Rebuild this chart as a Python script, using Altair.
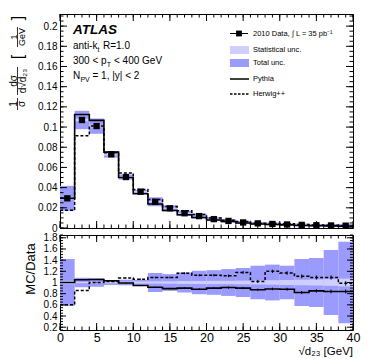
import altair as alt
import pandas as pd

# ---------------- data ----------------
bin_lo = [0, 2, 4, 6, 8, 10, 12, 14, 16, 18, 20, 22, 24, 26, 28, 30, 32, 34, 36, 38]
bin_hi = [2, 4, 6, 8, 10, 12, 14, 16, 18, 20, 22, 24, 26, 28, 30, 32, 34, 36, 38, 40]
bin_center = [1, 3, 5, 7, 9, 11, 13, 15, 17, 19, 21, 23, 25, 27, 29, 31, 33, 35, 37, 39]

data_val = [0.0294, 0.107, 0.101, 0.073, 0.0505, 0.036, 0.026, 0.0195, 0.0146, 0.0118,
            0.0088, 0.0070, 0.0055, 0.0046, 0.0040, 0.0035, 0.0031, 0.0027, 0.0025, 0.0023]
total_unc_rel = [0.42, 0.085, 0.075, 0.045, 0.05, 0.045, 0.17, 0.15, 0.18, 0.21,
                 0.22, 0.24, 0.26, 0.30, 0.32, 0.30, 0.42, 0.44, 0.58, 0.73]
stat_unc_rel = [0.03, 0.012, 0.012, 0.015, 0.015, 0.018, 0.02, 0.022, 0.025, 0.028,
                0.03, 0.03, 0.033, 0.035, 0.04, 0.045, 0.05, 0.055, 0.06, 0.07]
pythia_val = [0.0294, 0.1124, 0.1066, 0.0752, 0.0500, 0.0340, 0.0238, 0.0174, 0.0131, 0.0104,
              0.0079, 0.0064, 0.0050, 0.0040, 0.0035, 0.0031, 0.0025, 0.0023, 0.0021, 0.0019]
herwig_val = [0.0176, 0.0915, 0.1010, 0.0745, 0.0545, 0.0382, 0.0283, 0.0213, 0.0170, 0.0133,
              0.0099, 0.0078, 0.0065, 0.0047, 0.0048, 0.0041, 0.0034, 0.0029, 0.0027, 0.0023]
pythia_ratio = [1.0, 1.05, 1.055, 1.03, 0.99, 0.945, 0.915, 0.89, 0.9, 0.88,
                0.9, 0.91, 0.9, 0.87, 0.885, 0.88, 0.82, 0.85, 0.84, 0.84]
herwig_ratio = [0.6, 0.855, 1.0, 1.02, 1.08, 1.06, 1.09, 1.09, 1.165, 1.13,
                1.13, 1.12, 1.18, 1.02, 1.2, 1.17, 1.11, 1.09, 1.09, 0.985]
pythia_ratio_err = [0.01, 0.005, 0.005, 0.005, 0.008, 0.01, 0.012, 0.014, 0.015, 0.016,
                    0.018, 0.02, 0.02, 0.022, 0.024, 0.026, 0.028, 0.03, 0.032, 0.035]
herwig_ratio_err = [0.012, 0.006, 0.006, 0.007, 0.01, 0.012, 0.014, 0.016, 0.018, 0.02,
                    0.022, 0.024, 0.025, 0.027, 0.03, 0.032, 0.034, 0.036, 0.038, 0.04]

x_major = [0, 5, 10, 15, 20, 25, 30, 35, 40]
x_minor = list(range(0, 41))
top_y_labels = [0, 0.02, 0.04, 0.06, 0.08, 0.1, 0.12, 0.14, 0.16, 0.18, 0.2]
top_y_minor = [round(0.005 * i, 3) for i in range(43)]
bot_y_labels = [0.2, 0.4, 0.6, 0.8, 1.0, 1.2, 1.4, 1.6, 1.8]
bot_y_minor = [round(0.15 + 0.05 * i, 2) for i in range(35)]

# ---------------- tables ----------------
bins = pd.DataFrame({
    "lo": bin_lo, "hi": bin_hi, "c": bin_center, "data": data_val,
    "tot": total_unc_rel, "stat": stat_unc_rel,
    "pyr": pythia_ratio, "hwr": herwig_ratio,
    "pye": pythia_ratio_err, "hwe": herwig_ratio_err,
})
bins["tot_lo"] = bins["data"] * (1 - bins["tot"])
bins["tot_hi"] = bins["data"] * (1 + bins["tot"])
bins["stat_lo"] = bins["data"] * (1 - bins["stat"])
bins["stat_hi"] = bins["data"] * (1 + bins["stat"])
bins["rtot_lo"] = 1 - bins["tot"]
bins["rtot_hi"] = 1 + bins["tot"]
bins["rstat_lo"] = 1 - bins["stat"]
bins["rstat_hi"] = 1 + bins["stat"]
bins["pye_lo"] = bins["pyr"] - bins["pye"]
bins["pye_hi"] = bins["pyr"] + bins["pye"]
bins["hwe_lo"] = bins["hwr"] - bins["hwe"]
bins["hwe_hi"] = bins["hwr"] + bins["hwe"]

steps = pd.DataFrame({
    "x": bin_lo + [bin_hi[-1]],
    "py": pythia_val + [pythia_val[-1]],
    "hw": herwig_val + [herwig_val[-1]],
    "pyr": pythia_ratio + [pythia_ratio[-1]],
    "hwr": herwig_ratio + [herwig_ratio[-1]],
})

# ---------------- style ----------------
W, H1, H2 = 293, 214, 95
FONT = "Liberation Sans"
TOT = "#9a9aff"
STAT = "#cfcfff"
xs = alt.Scale(domain=[0, 40], nice=False, zero=False)
ys1 = alt.Scale(domain=[0, 0.212], nice=False, zero=False)
ys2 = alt.Scale(domain=[0.15, 1.85], nice=False, zero=False)
dummy = pd.DataFrame({"d": [0]})


def yaxis(values, fmt):
    return alt.Axis(values=values, format=fmt, ticks=False, domain=False, grid=False,
                    labelFont=FONT, labelFontSize=10, labelPadding=3, labelColor="black",
                    minExtent=51, maxExtent=51, title=None, labelOverlap=False)


AX_Y1 = yaxis(top_y_labels, ".2~f")
AX_Y2 = yaxis(bot_y_labels, ".1~f")
AX_X2 = alt.Axis(values=x_major, format="d", ticks=False, domain=False, grid=False,
                 labelFont=FONT, labelFontSize=12.5, labelPadding=11, labelBaseline="alphabetic",
                 labelFlush=False, labelOverlap=False, labelColor="black", title=None)


def ticks(vals, channel, xscale, yscale, xaxis, yaxis_, w, h, L):
    df = pd.DataFrame({"v": vals})
    c = alt.Chart(df).mark_rule(color="black", strokeWidth=1)
    if channel == "x":
        e = alt.X("v:Q", scale=xscale, axis=xaxis)
        return [c.encode(x=e, y=alt.value(h), y2=alt.value(h - L)),
                c.encode(x=e, y=alt.value(0), y2=alt.value(L))]
    e = alt.Y("v:Q", scale=yscale, axis=yaxis_)
    return [c.encode(y=e, x=alt.value(0), x2=alt.value(L)),
            c.encode(y=e, x=alt.value(w), x2=alt.value(w - L))]


def txt(s, x, y, size=10, align="left", baseline="alphabetic", **kw):
    return alt.Chart(dummy).mark_text(text=s, font=FONT, fontSize=size, align=align,
                                      baseline=baseline, color="black", **kw).encode(
        x=alt.value(x), y=alt.value(y))


def hline(x1, x2, y, **kw):
    return alt.Chart(dummy).mark_rule(color="black", **kw).encode(
        x=alt.value(x1), x2=alt.value(x2), y=alt.value(y))


def vline(x, y1, y2, **kw):
    return alt.Chart(dummy).mark_rule(color="black", **kw).encode(
        x=alt.value(x), y=alt.value(y1), y2=alt.value(y2))


def box(x1, x2, y1, y2, color):
    return alt.Chart(dummy).mark_rect(color=color).encode(
        x=alt.value(x1), x2=alt.value(x2), y=alt.value(y1), y2=alt.value(y2))


# ---------------- top panel ----------------
b = alt.Chart(bins)
s = alt.Chart(steps)
X1 = lambda f: alt.X(f, scale=xs, axis=None)
Y1 = lambda f: alt.Y(f, scale=ys1, axis=AX_Y1)

top_tot = b.mark_rect(color=TOT, clip=True).encode(
    x=X1("lo:Q"), x2="hi:Q", y=Y1("tot_lo:Q"), y2="tot_hi:Q")
top_stat = b.mark_rect(color=STAT, clip=True).encode(
    x=X1("lo:Q"), x2="hi:Q", y=Y1("stat_lo:Q"), y2="stat_hi:Q")
top_py = s.mark_line(interpolate="step-after", color="black", strokeWidth=1.6, clip=True).encode(
    x=X1("x:Q"), y=Y1("py:Q"))
top_hw = s.mark_line(interpolate="step-after", color="black", strokeWidth=1.5,
                     strokeDash=[3, 2], clip=True).encode(x=X1("x:Q"), y=Y1("hw:Q"))
top_pts = b.mark_square(size=40, color="black", opacity=1).encode(x=X1("c:Q"), y=Y1("data:Q"))

top_ticks = (ticks(x_minor, "x", xs, ys1, None, AX_Y1, W, H1, 3.5)
             + ticks(x_major, "x", xs, ys1, None, AX_Y1, W, H1, 7)
             + ticks(top_y_minor, "y", xs, ys1, None, AX_Y1, W, H1, 3.5)
             + ticks(top_y_labels, "y", xs, ys1, None, AX_Y1, W, H1, 7))

top_text = [
    txt("ATLAS", 13, 19.5, size=13.5, fontWeight="bold", fontStyle="italic"),
    txt("anti-k", 13, 34.7), txt("t", 37.6, 37.5, size=7), txt("R=1.0", 43, 34.7),
    txt("300 < p", 13, 49.7), txt("T", 46.8, 52.5, size=7), txt("< 400 GeV", 54, 49.7),
    txt("N", 13, 64.7), txt("PV", 20.4, 67.5, size=7), txt("= 1, |y| < 2", 32.5, 64.7),
    # legend
    hline(170, 188, 19.5, strokeWidth=1),
    alt.Chart(dummy).mark_square(size=34, color="black", opacity=1).encode(
        x=alt.value(179), y=alt.value(19.5)),
    txt("2010 Data, \u222b L =  35 pb\u207b\u00b9", 193, 19.5, size=7.5, baseline="middle"),
    box(170, 189, 32, 40, STAT),
    txt("Statistical unc.", 193, 36, size=7.5, baseline="middle"),
    box(170, 189, 45, 53, TOT),
    txt("Total unc.", 193, 49, size=7.5, baseline="middle"),
    hline(170, 189, 65, strokeWidth=1.5),
    txt("Pythia", 193, 65, size=7.5, baseline="middle"),
    hline(170, 189, 80, strokeWidth=1.3, strokeDash=[2.5, 1.5]),
    txt("Herwig++", 193, 80, size=7.5, baseline="middle"),
    # y-axis title: 1/sigma dsigma/d sqrt(d23) [1/GeV]
    txt("1", -46, 90, size=10, angle=270, align="center", baseline="middle"),
    vline(-42.5, 84, 96, strokeWidth=0.8),
    txt("\u03c3", -38, 90, size=10, angle=270, align="center", baseline="middle"),
    txt("d\u03c3", -46, 67, size=10, angle=270, align="center", baseline="middle"),
    vline(-42.5, 53, 81, strokeWidth=0.8),
    txt("d\u221ad\u2082\u2083", -37, 67, size=10, angle=270, align="center", baseline="middle"),
    txt("[", -42, 43, size=16, angle=270, align="center", baseline="middle"),
    txt("1", -46, 23, size=9, angle=270, align="center", baseline="middle"),
    vline(-42.5, 13, 33, strokeWidth=0.8),
    txt("GeV", -38, 23, size=9, angle=270, align="center", baseline="middle"),
    txt("]", -42, 4, size=16, angle=270, align="center", baseline="middle"),
]

top = alt.layer(top_tot, top_stat, top_py, top_hw, top_pts, *top_ticks, *top_text).properties(
    width=W, height=H1)

# ---------------- bottom panel ----------------
X2 = lambda f: alt.X(f, scale=xs, axis=AX_X2)
Y2 = lambda f: alt.Y(f, scale=ys2, axis=AX_Y2)

bot_tot = b.mark_rect(color=TOT, clip=True).encode(
    x=X2("lo:Q"), x2="hi:Q", y=Y2("rtot_lo:Q"), y2="rtot_hi:Q")
bot_stat = b.mark_rect(color=STAT, clip=True).encode(
    x=X2("lo:Q"), x2="hi:Q", y=Y2("rstat_lo:Q"), y2="rstat_hi:Q")
bot_py = s.mark_line(interpolate="step-after", color="black", strokeWidth=1.6, clip=True).encode(
    x=X2("x:Q"), y=Y2("pyr:Q"))
bot_hw = s.mark_line(interpolate="step-after", color="black", strokeWidth=1.5,
                     strokeDash=[3, 2], clip=True).encode(x=X2("x:Q"), y=Y2("hwr:Q"))
bot_pye = b.mark_rule(color="black", strokeWidth=1).encode(
    x=X2("c:Q"), y=Y2("pye_lo:Q"), y2="pye_hi:Q")
bot_hwe = b.mark_rule(color="black", strokeWidth=1).encode(
    x=X2("c:Q"), y=Y2("hwe_lo:Q"), y2="hwe_hi:Q")

bot_ticks = (ticks(x_minor, "x", xs, ys2, AX_X2, AX_Y2, W, H2, 3.5)
             + ticks(x_major, "x", xs, ys2, AX_X2, AX_Y2, W, H2, 7)
             + ticks(bot_y_minor, "y", xs, ys2, AX_X2, AX_Y2, W, H2, 3)
             + ticks(bot_y_labels, "y", xs, ys2, AX_X2, AX_Y2, W, H2, 6))

bot_text = [
    txt("MC/Data", -29, 34, size=13, angle=270, align="center", baseline="middle"),
    txt("\u221ad\u2082\u2083 [GeV]", W, H2 + 24.5, size=11.5, align="right"),
]

bottom = alt.layer(bot_tot, bot_stat, bot_py, bot_hw, bot_pye, bot_hwe, *bot_ticks, *bot_text).properties(
    width=W, height=H2)

chart = alt.vconcat(top, bottom, spacing=7, bounds="flush").properties(
    padding={"left": 0, "top": 5, "right": 5, "bottom": 1}
).configure_view(stroke="black", strokeWidth=1)

chart.save("out.html", embed_options={"renderer": "svg", "actions": False})
